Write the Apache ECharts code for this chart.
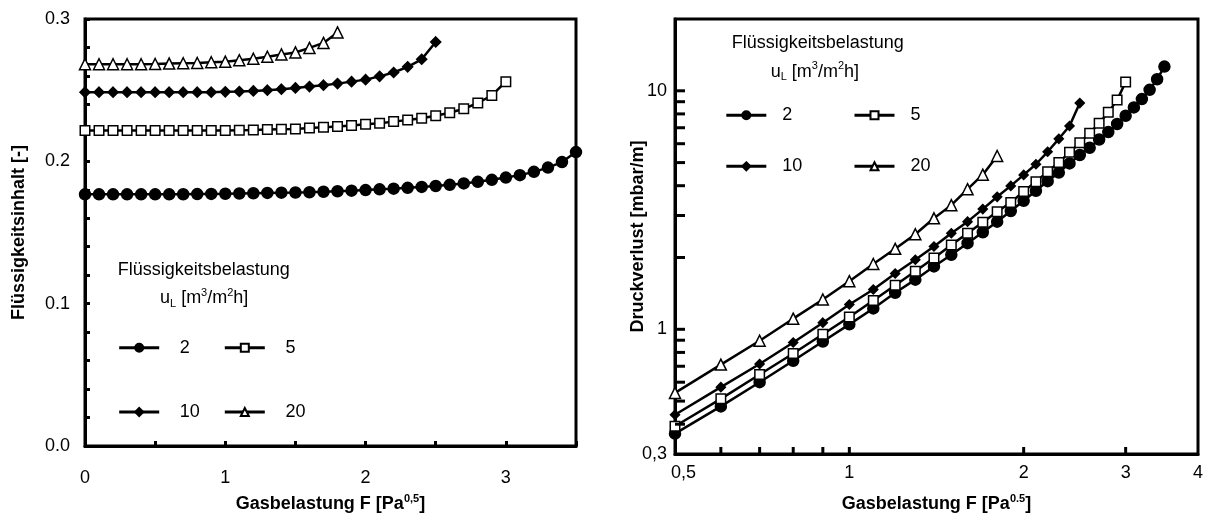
<!DOCTYPE html>
<html><head><meta charset="utf-8">
<script src="https://cdn.jsdelivr.net/npm/echarts@6/dist/echarts.min.js"></script>
<style>html,body{margin:0;padding:0;background:#fff}#c{width:1210px;height:520px}</style>
</head><body><div id="c"></div>
<script>
const FONT = "'Liberation Sans', Arial, Helvetica, sans-serif";

// ---------- data ----------
const seriesNames = ['2', '5', '10', '20'];

// Left: liquid hold-up vs gas load F
const gasLoadLeft = [0, 0.1, 0.2, 0.3, 0.4, 0.5, 0.6, 0.7, 0.8, 0.9, 1.0, 1.1, 1.2, 1.3, 1.4, 1.5, 1.6, 1.7, 1.8, 1.9,
  2.0, 2.1, 2.2, 2.3, 2.4, 2.5, 2.6, 2.7, 2.8, 2.9, 3.0, 3.1, 3.2, 3.3, 3.4, 3.5];
const holdup2 = [0.1768, 0.1768, 0.1768, 0.1768, 0.1768, 0.1768, 0.1768, 0.1769, 0.1770, 0.1771, 0.1772, 0.1774,
  0.1776, 0.1778, 0.1780, 0.1781, 0.1783, 0.1786, 0.1790, 0.1794, 0.1798, 0.1803, 0.1808, 0.1814, 0.1820, 0.1827,
  0.1835, 0.1845, 0.1856, 0.1870, 0.1886, 0.1903, 0.1926, 0.1956, 0.1995, 0.2065];
const holdup5 = [0.2217, 0.2217, 0.2217, 0.2217, 0.2217, 0.2217, 0.2217, 0.2217, 0.2217, 0.2217, 0.2217, 0.2219,
  0.2221, 0.2224, 0.2226, 0.2228, 0.2235, 0.2240, 0.2244, 0.2251, 0.2260, 0.2267, 0.2279, 0.2290, 0.2302, 0.2320,
  0.2341, 0.2369, 0.2410, 0.2463, 0.2560];
const holdup10 = [0.2486, 0.2486, 0.2486, 0.2486, 0.2486, 0.2486, 0.2486, 0.2486, 0.2486, 0.2486, 0.2488, 0.2491,
  0.2495, 0.2500, 0.2507, 0.2516, 0.2525, 0.2535, 0.2546, 0.2560, 0.2574, 0.2597, 0.2624, 0.2664, 0.2717, 0.2839];
const holdup20 = [0.2682, 0.2682, 0.2682, 0.2682, 0.2682, 0.2684, 0.2687, 0.2689, 0.2691, 0.2696, 0.2700, 0.2710,
  0.2721, 0.2735, 0.2751, 0.2765, 0.2797, 0.2832, 0.2906];

// Right: pressure drop vs gas load F (log-log)
const gasLoadRight = [0.5, 0.6, 0.7, 0.8, 0.9, 1.0, 1.1, 1.2, 1.3, 1.4, 1.5, 1.6, 1.7, 1.8, 1.9, 2.0, 2.1, 2.2, 2.3,
  2.4, 2.5, 2.6, 2.7, 2.8, 2.9, 3.0, 3.1, 3.2, 3.3, 3.4, 3.5];
const dp2 = [0.365, 0.475, 0.600, 0.738, 0.889, 1.049, 1.223, 1.422, 1.615, 1.835, 2.053, 2.297, 2.552, 2.827, 3.131,
  3.46, 3.81, 4.18, 4.54, 4.96, 5.38, 5.77, 6.25, 6.71, 7.26, 7.86, 8.52, 9.23, 10.09, 11.18, 12.63];
const dp5 = [0.392, 0.511, 0.646, 0.792, 0.953, 1.126, 1.321, 1.530, 1.750, 1.989, 2.259, 2.527, 2.810, 3.112, 3.403,
  3.78, 4.16, 4.58, 5.01, 5.52, 6.05, 6.64, 7.31, 8.12, 9.14, 10.89];
const dp10 = [0.438, 0.572, 0.715, 0.880, 1.066, 1.271, 1.468, 1.714, 1.957, 2.224, 2.527, 2.827, 3.191, 3.593, 3.993,
  4.44, 4.92, 5.55, 6.29, 7.12, 8.88];
const dp20 = [0.541, 0.711, 0.895, 1.108, 1.333, 1.591, 1.878, 2.175, 2.504, 2.920, 3.316, 3.867, 4.451, 5.33];

// Right axes ticks / labels
const rightXTickValues = [0.6, 0.7, 0.8, 0.9, 1, 2, 3];
const rightXLabelValues = [0.5, 1, 2, 3, 4];
const rightXLabelTexts = ['0,5', '1', '2', '3', '4'];
const rightYTickValues = [0.4, 0.5, 0.6, 0.7, 0.8, 0.9, 1, 2, 3, 4, 5, 6, 7, 8, 9, 10];
const rightYLabelValues = [0.3, 1, 10];
const rightYLabelTexts = ['0,3', '1', '10'];

const legendTitle = 'Flüssigkeitsbelastung';
const legendUnit = 'u{sub|L} [m{sup|3}/m{sup|2}h]';

// ---------- styles ----------
const FS = 18;
const markerStyle = {
  '2': { symbol: 'circle', fill: '#000', sizeL: 11, sizeR: 11 },
  '5': { symbol: 'rect', fill: '#fff', sizeL: 9.5, sizeR: 9.5 },
  '10': { symbol: 'diamond', fill: '#000', sizeL: 10, sizeR: 9 },
  '20': { symbol: 'triangle', fill: '#fff', sizeL: 11, sizeR: 11 }
};

function makeSeries(name, xs, ys, idx) {
  const m = markerStyle[name];
  return {
    name: name, type: 'line', xAxisIndex: idx, yAxisIndex: idx,
    data: ys.map((v, i) => [xs[i], v]),
    symbol: m.symbol, symbolSize: idx === 0 ? m.sizeL : m.sizeR,
    showSymbol: true, clip: false, animation: false,
    lineStyle: { color: '#000', width: 2.5 },
    itemStyle: { color: m.fill, borderColor: '#000', borderWidth: 1.5 },
    emphasis: { disabled: true }
  };
}

const axisLineStyle = { lineStyle: { color: '#000', width: 3 } };
const labelBase = { color: '#000', fontSize: FS, fontFamily: FONT };
const nameStyle = {
  color: '#000', fontSize: FS, fontWeight: 'bold', fontFamily: FONT, lineHeight: 22,
  rich: { sup: { fontSize: 11, fontWeight: 'bold', fontFamily: FONT, color: '#000', verticalAlign: 'top', lineHeight: 11 } }
};

function legendCfg(data, left, top, gap, pad) {
  return {
    data: data, orient: 'vertical', left: left, top: top, padding: 0,
    itemWidth: 40, itemHeight: 10, itemGap: gap, selectedMode: false,
    lineStyle: { width: 3, color: '#000' },
    textStyle: { color: '#000', fontSize: FS, fontFamily: FONT, lineHeight: 10, padding: [0, 0, 0, pad] }
  };
}

const option = {
  animation: false,
  backgroundColor: '#fff',
  textStyle: { fontFamily: FONT },
  grid: [
    { left: 85, top: 19, width: 491, height: 434, show: true, borderColor: '#000', borderWidth: 3, backgroundColor: 'transparent' },
    { left: 675, top: 19, width: 523, height: 438, show: true, borderColor: '#000', borderWidth: 3, backgroundColor: 'transparent' }
  ],
  xAxis: [
    {
      gridIndex: 0, type: 'value', min: 0, max: 3.5, interval: 0.5,
      axisLine: axisLineStyle,
      axisTick: { inside: true, length: 5, lineStyle: { color: '#000', width: 3 } },
      axisLabel: Object.assign({ margin: 23, interval: 0, hideOverlap: false,
        formatter: v => (Math.abs(v - Math.round(v)) < 1e-6 ? String(Math.round(v)) : '') }, labelBase),
      splitLine: { show: false },
      name: 'Gasbelastung F [Pa{sup|0,5}]', nameLocation: 'middle', nameGap: 47, nameTextStyle: nameStyle
    },
    {
      gridIndex: 1, type: 'log', logBase: 10, min: 0.5, max: 4,
      axisLine: axisLineStyle, axisTick: { show: false }, axisLabel: { show: false },
      splitLine: { show: false }, minorTick: { show: false },
      name: 'Gasbelastung F [Pa{sup|0.5}]', nameLocation: 'middle', nameGap: 39, nameTextStyle: nameStyle
    }
  ],
  yAxis: [
    {
      gridIndex: 0, type: 'value', min: 0, max: 0.3, interval: 0.02,
      axisLine: axisLineStyle,
      axisTick: { inside: true, length: 5, lineStyle: { color: '#000', width: 3 } },
      axisLabel: Object.assign({ margin: 15, interval: 0, hideOverlap: false,
        formatter: v => { const r = Math.round(v * 10); return Math.abs(v * 10 - r) < 1e-6 ? (r / 10).toFixed(1) : ''; } }, labelBase),
      splitLine: { show: false },
      name: 'Flüssigkeitsinhalt [-]', nameLocation: 'middle', nameGap: 55, nameTextStyle: nameStyle
    },
    {
      gridIndex: 1, type: 'log', logBase: 10, min: 0.3, max: 20,
      axisLine: axisLineStyle, axisTick: { show: false }, axisLabel: { show: false },
      splitLine: { show: false }, minorTick: { show: false },
      name: 'Druckverlust [mbar/m]', nameLocation: 'middle', nameGap: 26, nameTextStyle: nameStyle
    }
  ],
  legend: [
    legendCfg(['2', '10'], 117.7, 338.7, 46.3, 15.6),
    legendCfg(['5', '20'], 223.3, 338.7, 46.3, 15.6),
    legendCfg(['2', '10'], 724.8, 106.3, 33, 11),
    legendCfg(['5', '20'], 853, 106.3, 33, 11)
  ],
  series: [
    makeSeries(seriesNames[0], gasLoadLeft, holdup2, 0),
    makeSeries(seriesNames[1], gasLoadLeft, holdup5, 0),
    makeSeries(seriesNames[2], gasLoadLeft, holdup10, 0),
    makeSeries(seriesNames[3], gasLoadLeft, holdup20, 0),
    makeSeries(seriesNames[0], gasLoadRight, dp2, 1),
    makeSeries(seriesNames[1], gasLoadRight, dp5, 1),
    makeSeries(seriesNames[2], gasLoadRight, dp10, 1),
    makeSeries(seriesNames[3], gasLoadRight, dp20, 1)
  ]
};

const chart = echarts.init(document.getElementById('c'), null, { renderer: 'canvas' });
chart.setOption(option);

// ---------- log-axis ticks, labels, legend titles ----------
const px = v => chart.convertToPixel({ xAxisIndex: 1 }, v);
const py = v => chart.convertToPixel({ yAxisIndex: 1 }, v);
const xLeft = px(0.5), yBottom = py(0.3);
const g = [];
rightXTickValues.forEach(v => {
  const x = px(v);
  g.push({ type: 'line', z: 5, shape: { x1: x, y1: yBottom, x2: x, y2: yBottom - 7 }, style: { stroke: '#000', lineWidth: 3 } });
});
rightYTickValues.forEach(v => {
  const y = py(v);
  g.push({ type: 'line', z: 5, shape: { x1: xLeft, y1: y, x2: xLeft + 10, y2: y }, style: { stroke: '#000', lineWidth: 3 } });
});
rightXLabelValues.forEach((v, i) => {
  const first = i === 0;
  g.push({ type: 'text', z: 5, x: px(v) + (first ? -4 : 0), y: yBottom + 10,
    style: { text: rightXLabelTexts[i], fontSize: FS, fontFamily: FONT, fill: '#000', align: first ? 'left' : 'center', verticalAlign: 'top' } });
});
rightYLabelValues.forEach((v, i) => {
  g.push({ type: 'text', z: 5, x: xLeft - 8, y: py(v),
    style: { text: rightYLabelTexts[i], fontSize: FS, fontFamily: FONT, fill: '#000', align: 'right', verticalAlign: 'middle' } });
});
const richSubSup = {
  sub: { fontSize: 11, fontFamily: FONT, fill: '#000', verticalAlign: 'bottom', lineHeight: 11 },
  sup: { fontSize: 11, fontFamily: FONT, fill: '#000', verticalAlign: 'top', lineHeight: 11 }
};
[[117.7, 270.5, 160, 298], [731.7, 43.3, 770.7, 71.7]].forEach(p => {
  g.push({ type: 'text', z: 5, x: p[0], y: p[1],
    style: { text: legendTitle, fontSize: FS, fontFamily: FONT, fill: '#000', align: 'left', verticalAlign: 'middle' } });
  g.push({ type: 'text', z: 5, x: p[2], y: p[3],
    style: { text: legendUnit, fontSize: FS, fontFamily: FONT, fill: '#000', lineHeight: 22, align: 'left', verticalAlign: 'middle', rich: richSubSup } });
});
chart.setOption({ graphic: g });
</script>
</body></html>
